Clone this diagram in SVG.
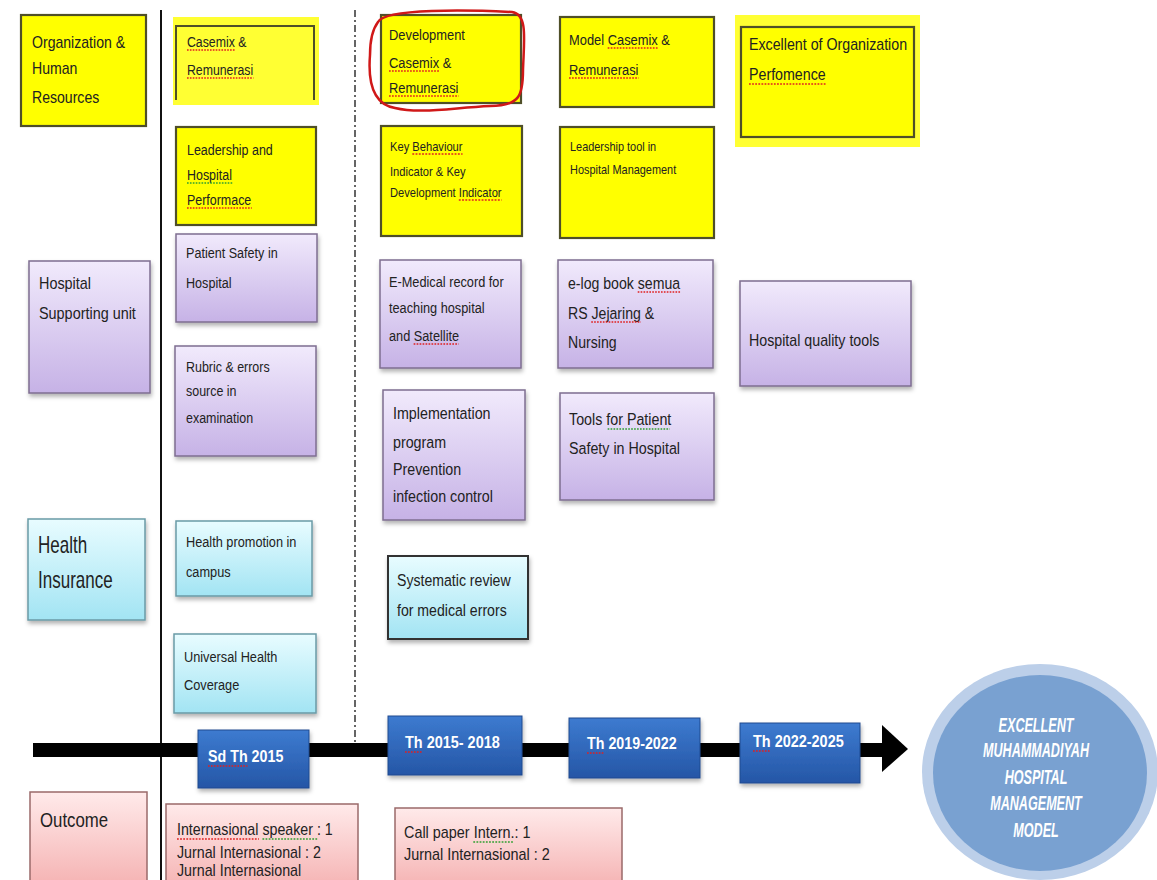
<svg xmlns="http://www.w3.org/2000/svg" width="1157" height="880" viewBox="0 0 1157 880">
<defs>
<linearGradient id="gPurple" x1="0" y1="0" x2="0" y2="1"><stop offset="0" stop-color="#f1eafc"/><stop offset="1" stop-color="#c6b2e6"/></linearGradient>
<linearGradient id="gCyan" x1="0" y1="0" x2="0" y2="1"><stop offset="0" stop-color="#e8fcff"/><stop offset="1" stop-color="#a2e4f3"/></linearGradient>
<linearGradient id="gBlue" x1="0" y1="0" x2="0" y2="1"><stop offset="0" stop-color="#3d7bd0"/><stop offset="1" stop-color="#2556a6"/></linearGradient>
<linearGradient id="gPink" x1="0" y1="0" x2="0" y2="1"><stop offset="0" stop-color="#ffeaea"/><stop offset="1" stop-color="#f5b2b2"/></linearGradient>
<filter id="sh" x="-10%" y="-10%" width="125%" height="130%"><feDropShadow dx="1" dy="3" stdDeviation="2" flood-color="#000" flood-opacity="0.3"/></filter>
</defs>
<style>
text{font-family:"Liberation Sans",Arial,sans-serif;fill:#222}
.y{fill:#ffff00;stroke:#4f4f28;stroke-width:2.2}
.glow{fill:#ffff33}
.p{fill:url(#gPurple);stroke:#7e6e90;stroke-width:1.5;filter:url(#sh)}
.c{fill:url(#gCyan);stroke:#6a9aa6;stroke-width:1.5;filter:url(#sh)}
.b{fill:url(#gBlue);stroke:#1e4a90;stroke-width:1;filter:url(#sh)}
.k{fill:url(#gPink);stroke:#9a6a6a;stroke-width:1.5}
.t16{font-size:16px}
.t15{font-size:15px}
.t17{font-size:17px}
.t12{font-size:12px}
.tw{font-size:17px;font-weight:bold;fill:#fff}
.tc{font-size:21px;font-weight:bold;font-style:italic;fill:#fff;text-anchor:middle}
.sq{stroke:#e02020;stroke-width:1.3;stroke-dasharray:2,1.5;fill:none}
.sg{stroke:#30a030;stroke-width:1.3;stroke-dasharray:2,1.5;fill:none}
</style>
<rect width="1157" height="880" fill="#fff"/>

<g id="connectors">
<line x1="161" y1="10" x2="161" y2="880" stroke="#111" stroke-width="2"/>
<line x1="355" y1="10" x2="355" y2="745" stroke="#333" stroke-width="1.5" stroke-dasharray="7,3,2,3"/>
<rect x="33" y="743" width="852" height="14" fill="#000"/>
<polygon points="882,725 908,749 882,772" fill="#000"/>
</g>

<g id="org-hr"><rect class="y" x="21" y="15" width="125" height="111"/>
<g transform="translate(32,0) scale(0.88,1)"><text class="t16" x="0" y="48">Organization &amp;</text><text class="t16" x="0" y="74">Human</text><text class="t16" x="0" y="103">Resources</text></g></g>

<g id="casemix1"><rect class="glow" x="173" y="17" width="146" height="88"/><path d="M176,100 V26 H314 V100" fill="none" stroke="#4f4f28" stroke-width="2"/>
<g transform="translate(187,0) scale(0.82,1)"><text class="t15" x="0" y="47">Casemix &amp;</text><text class="t15" x="0" y="75">Remunerasi</text>
<path class="sq" d="M0,50 H58 M0,78 H81"/></g></g>

<g id="leadership1"><rect class="y" x="176" y="127" width="140" height="98"/>
<g transform="translate(187,0) scale(0.83,1)"><text class="t15" x="0" y="155">Leadership and</text><text class="t15" x="0" y="180">Hospital</text><text class="t15" x="0" y="205">Performace</text>
<path class="sg" d="M0,183 H56"/><path class="sq" d="M0,208 H78"/></g></g>

<g id="dev-casemix"><rect class="y" x="381" y="15" width="140" height="88"/>
<g transform="translate(389,0) scale(0.86,1)"><text class="t15" x="0" y="40">Development</text><text class="t15" x="0" y="68">Casemix &amp;</text><text class="t15" x="0" y="93">Remunerasi</text>
<path class="sq" d="M0,71 H58 M0,96 H81"/></g>
<path d="M378,22 C385,8 470,10 512,12 C528,14 524,40 523,70 C523,95 520,106 490,106 C450,108 420,114 395,108 C372,104 368,80 370,55 C370,40 372,30 378,22 Z" fill="none" stroke="#d01818" stroke-width="2.5"/></g>

<g id="kbi"><rect class="y" x="381" y="126" width="141" height="110"/>
<g transform="translate(390,0) scale(0.93,1)"><text class="t12" x="0" y="151">Key Behaviour</text><text class="t12" x="0" y="176">Indicator &amp; Key</text><text class="t12" x="0" y="197">Development Indicator</text>
<path class="sq" d="M24,154 H78 M74,200 H120"/></g></g>

<g id="model-casemix"><rect class="y" x="560" y="17" width="154" height="90"/>
<g transform="translate(569,0) scale(0.86,1)"><text class="t15" x="0" y="45">Model Casemix &amp;</text><text class="t15" x="0" y="75">Remunerasi</text>
<path class="sq" d="M45,48 H103 M0,78 H81"/></g></g>

<g id="leadership-tool"><rect class="y" x="560" y="127" width="154" height="111"/>
<g transform="translate(570,0) scale(0.91,1)"><text class="t12" x="0" y="151">Leadership tool in</text><text class="t12" x="0" y="174">Hospital Management</text></g></g>

<g id="excellent-org"><rect class="glow" x="735" y="15" width="185" height="132"/><rect class="y" x="741" y="27" width="173" height="110"/>
<g transform="translate(749,0) scale(0.89,1)"><text class="t16" x="0" y="50">Excellent of Organization</text><text class="t16" x="0" y="80">Perfomence</text>
<path class="sq" d="M0,84 H86"/></g></g>

<g id="hospital-supporting"><rect class="p" x="29" y="261" width="121" height="132"/>
<g transform="translate(39,0) scale(0.9,1)"><text class="t16" x="0" y="289">Hospital</text><text class="t16" x="0" y="319">Supporting unit</text></g></g>

<g id="patient-safety"><rect class="p" x="176" y="234" width="141" height="88"/>
<g transform="translate(186,0) scale(0.84,1)"><text class="t15" x="0" y="258">Patient Safety in</text><text class="t15" x="0" y="288">Hospital</text></g></g>

<g id="rubric"><rect class="p" x="175" y="346" width="141" height="110"/>
<g transform="translate(186,0) scale(0.83,1)"><text class="t15" x="0" y="372">Rubric &amp; errors</text><text class="t15" x="0" y="396">source in</text><text class="t15" x="0" y="423">examination</text></g></g>

<g id="emedical"><rect class="p" x="380" y="260" width="141" height="108"/>
<g transform="translate(389,0) scale(0.85,1)"><text class="t15" x="0" y="287">E-Medical record for</text><text class="t15" x="0" y="313">teaching hospital</text><text class="t15" x="0" y="341">and Satellite</text>
<path class="sq" d="M29,344 H82"/></g></g>

<g id="elog"><rect class="p" x="558" y="260" width="155" height="108"/>
<g transform="translate(568,0) scale(0.83,1)"><text class="t17" x="0" y="289">e-log book semua</text><text class="t17" x="0" y="319">RS Jejaring &amp;</text><text class="t17" x="0" y="348">Nursing</text>
<path class="sq" d="M84,292 H135 M28,322 H88"/></g></g>

<g id="quality-tools"><rect class="p" x="740" y="281" width="171" height="105"/>
<g transform="translate(749,0) scale(0.89,1)"><text class="t16" x="0" y="346">Hospital quality tools</text></g></g>

<g id="implementation"><rect class="p" x="383" y="390" width="142" height="130"/>
<g transform="translate(393,0) scale(0.84,1)"><text class="t17" x="0" y="419">Implementation</text><text class="t17" x="0" y="448">program</text><text class="t17" x="0" y="475">Prevention</text><text class="t17" x="0" y="502">infection control</text></g></g>

<g id="tools-patient"><rect class="p" x="560" y="393" width="154" height="107"/>
<g transform="translate(569,0) scale(0.84,1)"><text class="t17" x="0" y="425">Tools for Patient</text><text class="t17" x="0" y="454">Safety in Hospital</text>
<path class="sg" d="M46,429 H120"/></g></g>

<g id="health-insurance"><rect class="c" x="28" y="519" width="117" height="101"/>
<g transform="translate(38,0) scale(0.74,1)"><text x="0" y="553" style="font-size:23px">Health</text><text x="0" y="588" style="font-size:23px">Insurance</text></g></g>

<g id="health-promotion"><rect class="c" x="176" y="521" width="136" height="75"/>
<g transform="translate(186,0) scale(0.85,1)"><text class="t15" x="0" y="547">Health promotion in</text><text class="t15" x="0" y="577">campus</text></g></g>

<g id="uhc"><rect class="c" x="174" y="634" width="142" height="79"/>
<g transform="translate(184,0) scale(0.85,1)"><text class="t15" x="0" y="662">Universal Health</text><text class="t15" x="0" y="690">Coverage</text></g></g>

<g id="systematic-review"><rect class="c" x="388" y="556" width="140" height="83" style="stroke:#333;stroke-width:2"/>
<g transform="translate(397,0) scale(0.83,1)"><text class="t17" x="0" y="586">Systematic review</text><text class="t17" x="0" y="616">for medical errors</text></g></g>

<g id="sd2015"><rect class="b" x="198" y="730" width="111" height="58"/>
<g transform="translate(208,0) scale(0.84,1)"><text class="tw" x="0" y="762">Sd Th 2015</text><path class="sq" d="M0,766 H47"/></g></g>
<g id="th2015"><rect class="b" x="388" y="716" width="134" height="59"/>
<g transform="translate(405,0) scale(0.85,1)"><text class="tw" x="0" y="748">Th 2015- 2018</text><path class="sq" d="M0,752 H21"/></g></g>
<g id="th2019"><rect class="b" x="569" y="718" width="131" height="60"/>
<g transform="translate(587,0) scale(0.84,1)"><text class="tw" x="0" y="749">Th 2019-2022</text><path class="sq" d="M0,753 H21"/></g></g>
<g id="th2022"><rect class="b" x="740" y="723" width="120" height="60"/>
<g transform="translate(753,0) scale(0.85,1)"><text class="tw" x="0" y="747">Th 2022-2025</text><path class="sq" d="M0,751 H21"/></g></g>

<g id="excellent-model">
<ellipse cx="1040" cy="772" rx="118" ry="108" fill="#bccfe9"/>
<ellipse cx="1040" cy="773" rx="107" ry="98" fill="#79a1d1"/>
<g transform="translate(1036,0) scale(0.6,1)">
<text class="tc" x="0" y="732">EXCELLENT</text>
<text class="tc" x="0" y="757">MUHAMMADIYAH</text>
<text class="tc" x="0" y="784">HOSPITAL</text>
<text class="tc" x="0" y="810">MANAGEMENT</text>
<text class="tc" x="0" y="837">MODEL</text>
</g>
</g>

<g id="outcome"><rect class="k" x="30" y="792" width="117" height="95"/>
<g transform="translate(40,0) scale(0.8,1)"><text x="0" y="827" style="font-size:21px">Outcome</text></g></g>

<g id="outcome-2015"><rect class="k" x="166" y="804" width="192" height="85"/>
<g transform="translate(177,0) scale(0.89,1)"><text class="t16" x="0" y="835">Internasional speaker : 1</text><text class="t16" x="0" y="858">Jurnal Internasional : 2</text><text class="t16" x="0" y="876">Jurnal Internasional</text>
<path class="sq" d="M0,839 H92"/><path class="sg" d="M96,839 H158"/></g></g>

<g id="outcome-2018"><rect class="k" x="395" y="808" width="227" height="80"/>
<g transform="translate(404,0) scale(0.9,1)"><text class="t16" x="0" y="838">Call paper Intern.: 1</text><text class="t16" x="0" y="860">Jurnal Internasional : 2</text>
<path class="sg" d="M77,842 H122"/></g></g>
</svg>
